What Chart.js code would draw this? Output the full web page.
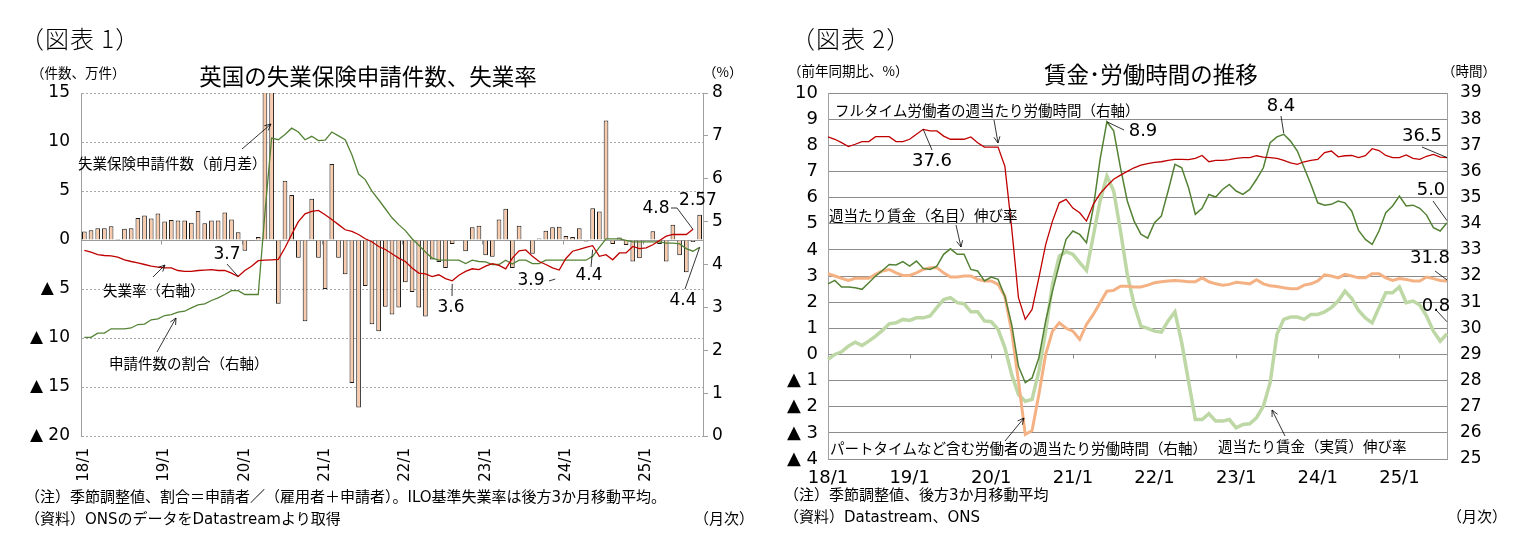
<!DOCTYPE html>
<html>
<head>
<meta charset="utf-8">
<script src="https://cdn.jsdelivr.net/npm/chart.js@4.4.1/dist/chart.umd.min.js"></script>
<style>
body{margin:0;background:#fff;width:1513px;height:557px;overflow:hidden;position:relative;font-family:"Noto Sans CJK JP",sans-serif;color:#000}
canvas{position:absolute;top:0}
#c1{left:0}
#c2{left:760px}
.t{position:absolute;white-space:nowrap;line-height:1;transform:translateY(-50%);z-index:2}
.c{transform:translate(-50%,-50%)}
.fig{font-size:24px;font-weight:300;letter-spacing:1px}
.ttl{font-size:22.5px}
.unit{font-size:13.5px}
.note{font-size:15px;font-family:"DejaVu Sans","Noto Sans CJK JP",sans-serif}
</style>
</head>
<body>
<canvas id="c1" width="760" height="557"></canvas>
<canvas id="c2" width="753" height="557"></canvas>

<div class="t fig" style="left:20px;top:38px">（図表 1）</div>
<div class="t ttl c" style="left:368px;top:75px">英国の失業保険申請件数、失業率</div>
<div class="t unit" style="left:31px;top:73px">（件数、万件）</div>
<div class="t unit" style="left:703px;top:72px">（%）</div>
<div class="t note" style="left:25px;top:497px">（注）季節調整値、割合＝申請者／（雇用者＋申請者）。ILO基準失業率は後方3か月移動平均。</div>
<div class="t note" style="left:25px;top:519px">（資料）ONSのデータをDatastreamより取得</div>
<div class="t note" style="left:694px;top:519px">（月次）</div>

<div class="t fig" style="left:791px;top:38px">（図表 2）</div>
<div class="t ttl c" style="left:1151px;top:73px">賃金･労働時間の推移</div>
<div class="t unit" style="left:788px;top:71px">（前年同期比、%）</div>
<div class="t unit" style="left:1442px;top:71px">（時間）</div>
<div class="t note" style="left:784px;top:495px">（注）季節調整値、後方3か月移動平均</div>
<div class="t note" style="left:784px;top:517px">（資料）Datastream、ONS</div>
<div class="t note" style="left:1447px;top:517px">（月次）</div>

<script>
// year labels shown on the x axis
const yearLabels = ['18/1','19/1','20/1','21/1','22/1','23/1','24/1','25/1'];

// monthly categories 2018/1 - 2025/9
const months = [];
for (let i = 0; i < 93; i++) {
  months.push((18 + Math.floor(i / 12)) + '/' + (i % 12 + 1));
}

// ---- chart 1 : claimant count change (万件), ILO unemployment rate, claimant share (%)
const claims = [
  0.88, 1.0, 1.2, 1.2, 1.4, 0.1, 1.15, 1.2, 2.25, 2.5, 2.2, 2.7,
  1.9, 2.05, 2.0, 2.0, 1.75, 2.95, 1.7, 2.0, 2.0, 2.8, 2.1, 0.8,
  -1.1, -0.1, 0.3, 85.6, 52.8, -6.5, 6.05, 4.6, -1.8, -8.3, 4.2, -1.8,
  -5.0, 7.75, -1.8, -3.5, -14.6, -17.1, -4.7, -8.6, -9.3, -6.8, -7.6, -6.9,
  -4.3, -5.3, -6.9, -7.8, -2.0, -2.25, -2.85, -0.4, 0.05, -1.15, 1.3, 1.45,
  -1.55, -1.7, 2.1, 3.2, -2.85, 1.45, 0.05, -1.4, 0.15, 0.95, 1.3, 1.35,
  0.4, 0.3, 1.2, -0.15, 3.25, 2.9, 12.2, -0.4, 0.25, -0.5, -2.2, -1.85,
  0.05, 0.9, -0.4, -2.2, 1.55, -1.55, -3.3, -0.2, 2.57
];
const unempRate = [
  4.33, 4.29, 4.23, 4.21, 4.2, 4.17, 4.11, 4.07, 4.04, 4.0, 3.96, 3.94,
  3.92, 3.92, 3.86, 3.84, 3.84, 3.86, 3.87, 3.88, 3.86, 3.86, 3.8, 3.72,
  3.86, 3.96, 4.09, 4.1, 4.11, 4.12, 4.39, 4.7, 5.0, 5.18, 5.24, 5.26,
  5.16, 5.05, 4.93, 4.81, 4.77, 4.7, 4.6, 4.53, 4.42, 4.35, 4.25, 4.15,
  4.07, 3.92, 3.8, 3.78, 3.72, 3.76, 3.67, 3.62, 3.75, 3.84, 3.9, 3.88,
  3.96, 4.02, 3.98, 3.9, 4.15, 4.32, 4.34, 4.19, 4.07, 4.0, 3.92, 3.87,
  4.14, 4.31, 4.35, 4.4, 4.44, 4.19, 4.23, 4.11, 4.27, 4.27, 4.42, 4.37,
  4.39, 4.46, 4.56, 4.66, 4.7, 4.7, 4.7, 4.82
];
const claimShare = [
  2.3, 2.3, 2.4, 2.4, 2.5, 2.5, 2.5, 2.52, 2.6, 2.61, 2.71, 2.73,
  2.81, 2.83, 2.89, 2.91, 2.99, 3.06, 3.08, 3.16, 3.22, 3.3, 3.39, 3.39,
  3.3, 3.3, 3.3, 5.2, 6.95, 6.91, 7.03, 7.18, 7.09, 6.91, 6.99, 6.89,
  6.9, 7.09, 7.0, 6.91, 6.56, 6.11, 5.98, 5.71, 5.51, 5.3, 5.09, 4.93,
  4.79, 4.6, 4.45, 4.29, 4.15, 4.1, 4.1, 4.1, 4.1, 4.02, 4.1, 4.07,
  4.06, 4.0, 4.0, 4.1, 4.01, 4.1, 4.1, 4.02, 4.02, 4.1, 4.1, 4.1,
  4.1, 4.1, 4.1, 4.1, 4.19, 4.4, 4.6, 4.6, 4.6, 4.56, 4.53, 4.53,
  4.53, 4.53, 4.53, 4.5, 4.5, 4.48, 4.37, 4.31, 4.4
];

// ---- chart 2 : wages (前年同期比 %) and weekly hours (時間), 2018/1 - 2025/8
const hoursFull = [
  37.32, 37.23, 37.1, 36.95, 37.04, 37.14, 37.14, 37.33, 37.33, 37.33, 37.14, 37.14,
  37.23, 37.42, 37.61, 37.55, 37.55, 37.35, 37.23, 37.23, 37.23, 37.32, 37.1, 36.93,
  36.93, 36.93, 36.2, 33.85, 31.17, 30.34, 30.72, 31.93, 33.2, 34.1, 34.8, 34.93,
  34.6, 34.42, 34.1, 34.74, 35.15, 35.44, 35.7, 35.86, 36.0, 36.14, 36.24, 36.3,
  36.35, 36.37, 36.42, 36.46, 36.46, 36.45, 36.5, 36.61, 36.37, 36.42, 36.42, 36.45,
  36.5, 36.53, 36.53, 36.6, 36.55, 36.53, 36.5, 36.42, 36.33, 36.27, 36.37, 36.42,
  36.46, 36.72, 36.78, 36.56, 36.6, 36.61, 36.53, 36.6, 36.87, 36.8, 36.61, 36.53,
  36.53, 36.63, 36.5, 36.46, 36.58, 36.65, 36.55, 36.53
];
const wageNominal = [
  2.7, 2.83, 2.58, 2.58, 2.55, 2.49, 2.74, 3.0, 3.21, 3.44, 3.42, 3.55,
  3.38, 3.57, 3.29, 3.25, 3.38, 3.83, 4.04, 3.83, 3.83, 3.25, 3.19, 2.81,
  2.96, 2.87, 2.23, 1.15, -0.45, -1.08, -0.9, -0.13, 1.28, 2.42, 3.44, 4.4,
  4.72, 4.59, 4.27, 5.61, 7.46, 8.9, 8.55, 7.14, 5.87, 5.1, 4.6, 4.45,
  5.04, 5.29, 6.25, 7.27, 7.14, 6.38, 5.36, 5.59, 6.12, 6.02, 6.31, 6.5,
  6.25, 6.12, 6.31, 6.7, 7.14, 8.1, 8.32, 8.42, 8.16, 7.78, 7.14, 6.5,
  5.8, 5.71, 5.74, 5.87, 5.8, 5.48, 4.74, 4.4, 4.21, 4.72, 5.42, 5.68,
  6.06, 5.68, 5.71, 5.59, 5.33, 4.85, 4.72, 5.04
];
const hoursAll = [
  32.09, 32.0, 31.91, 31.83, 31.91, 31.91, 31.91, 32.06, 32.19, 32.25, 32.12, 32.02,
  32.02, 32.12, 32.25, 32.32, 32.32, 32.12, 31.96, 31.96, 32.0, 32.0, 31.87, 31.81,
  31.81, 31.68, 31.23, 29.89, 27.98, 25.94, 26.09, 27.47, 29.0, 29.89, 30.21, 30.0,
  29.89, 29.57, 30.15, 30.53, 30.98, 31.42, 31.45, 31.61, 31.61, 31.58, 31.58, 31.65,
  31.74, 31.78, 31.81, 31.83, 31.81, 31.78, 31.78, 31.93, 31.78, 31.7, 31.65, 31.68,
  31.76, 31.73, 31.7, 31.86, 31.7, 31.63, 31.6, 31.55, 31.51, 31.51, 31.65, 31.7,
  31.81, 32.04, 32.0, 31.93, 32.06, 32.0, 31.93, 31.93, 32.09, 32.09, 31.93, 31.83,
  31.9, 31.87, 31.81, 31.81, 31.96, 31.9, 31.83, 31.81
];
const wageReal = [
  -0.19, 0.0, 0.1, 0.32, 0.47, 0.34, 0.51, 0.7, 0.92, 1.17, 1.21, 1.34,
  1.3, 1.4, 1.4, 1.47, 1.79, 2.1, 2.17, 1.98, 1.94, 1.63, 1.63, 1.28,
  1.25, 0.96, 0.26, -0.77, -1.53, -1.79, -1.72, -0.64, 0.89, 2.68, 3.76, 3.93,
  3.83, 3.51, 3.21, 4.53, 5.87, 6.82, 6.25, 4.72, 3.06, 1.91, 1.08, 1.0,
  0.89, 0.85, 1.28, 1.63, 0.45, -1.02, -2.49, -2.49, -2.27, -2.55, -2.55, -2.49,
  -2.81, -2.68, -2.65, -2.42, -1.98, -1.08, 0.77, 1.34, 1.43, 1.43, 1.34, 1.53,
  1.53, 1.63, 1.79, 2.04, 2.42, 2.14, 1.68, 1.4, 1.21, 1.79, 2.36, 2.36,
  2.58, 1.98, 2.04, 1.89, 1.47, 0.89, 0.51, 0.79
];

const NUM = '"DejaVu Sans", sans-serif';
const JP = '"Noto Sans CJK JP", sans-serif';

function tri(v) { return v < 0 ? '▲ ' + (-v) : String(v); }
function yearOnly(v, i) { return yearLabels.includes(months[i]) ? months[i] : ''; }

// zero axis line, year ticks, and the text notes with leader lines
const notesPlugin = {
  id: 'notes',
  beforeDatasetsDraw(chart, args, opts) {
    const ctx = chart.ctx, sx = chart.scales.x, a = chart.chartArea;
    const y0 = Math.round(chart.scales.y.getPixelForValue(0)) + 0.5;
    ctx.save();
    ctx.strokeStyle = opts.axisColor;
    ctx.lineWidth = 1;
    ctx.beginPath();
    ctx.moveTo(a.left, y0);
    ctx.lineTo(a.right, y0);
    for (let i = 12; i < chart.data.labels.length; i += 12) {
      let px = opts.between ? (sx.getPixelForValue(i - 1) + sx.getPixelForValue(i)) / 2 : sx.getPixelForValue(i);
      px = Math.round(px) + 0.5;
      ctx.moveTo(px, y0);
      ctx.lineTo(px, y0 + 4);
    }
    ctx.stroke();
    ctx.restore();
  },
  afterDatasetsDraw(chart, args, opts) {
    const ctx = chart.ctx;
    ctx.save();
    ctx.strokeStyle = '#000';
    ctx.fillStyle = '#000';
    ctx.lineWidth = 0.8;
    ctx.textBaseline = 'middle';
    (opts.items || []).forEach(n => {
      if (n.from) {
        let end = n.to;
        if (!Array.isArray(end)) {
          const ds = chart.data.datasets[end.set];
          const sy = chart.scales[ds.yAxisID];
          end = [chart.scales.x.getPixelForValue(end.i) + (end.dx || 0),
                 sy.getPixelForValue(ds.data[end.i]) + (end.dy || 0)];
        }
        const pts = [n.from].concat(n.via ? [n.via] : [], [end]);
        ctx.beginPath();
        ctx.moveTo(pts[0][0], pts[0][1]);
        for (let k = 1; k < pts.length; k++) ctx.lineTo(pts[k][0], pts[k][1]);
        ctx.stroke();
        if (n.arrow) {
          const p = pts[pts.length - 2];
          const ang = Math.atan2(end[1] - p[1], end[0] - p[0]);
          ctx.beginPath();
          [0.45, -0.45].forEach(d => {
            ctx.moveTo(end[0], end[1]);
            ctx.lineTo(end[0] - 7 * Math.cos(ang + d), end[1] - 7 * Math.sin(ang + d));
          });
          ctx.stroke();
        }
      }
      ctx.font = n.jp ? opts.jpFont : opts.numFont;
      ctx.textAlign = n.jp ? 'left' : 'center';
      ctx.fillText(n.text, n.x, n.y);
    });
    ctx.restore();
  }
};

// ---------------- chart 1
new Chart(document.getElementById('c1'), {
  data: {
    labels: months,
    datasets: [
      {type: 'line', label: '失業率（右軸）', data: unempRate, yAxisID: 'yR', borderColor: '#c00000',
       borderWidth: 1.3, pointRadius: 0, tension: 0, order: 1},
      {type: 'line', label: '申請件数の割合（右軸）', data: claimShare, yAxisID: 'yR', borderColor: '#548235',
       borderWidth: 1.3, pointRadius: 0, tension: 0, order: 2},
      {type: 'bar', label: '失業保険申請件数（前月差）', data: claims, yAxisID: 'y', backgroundColor: '#f8cbad',
       borderColor: '#1a1a1a', borderWidth: 1, barPercentage: 0.7, categoryPercentage: 1, order: 3}
    ]
  },
  options: {
    responsive: false,
    animation: false,
    layout: {padding: {top: 93, left: 0, right: 0, bottom: 0}},
    plugins: {
      legend: {display: false},
      tooltip: {enabled: false},
      notes: {
        axisColor: '#9a9a9a', between: true,
        numFont: '17px ' + NUM, jpFont: '14.5px ' + JP,
        items: [
          {text: '失業保険申請件数（前月差）', jp: true, x: 78, y: 163, from: [242, 149], to: [271, 124], arrow: true},
          {text: '失業率（右軸）', jp: true, x: 103, y: 290, from: [153, 277], to: [165, 265], arrow: true},
          {text: '申請件数の割合（右軸）', jp: true, x: 109, y: 363, from: [157, 352], to: [176, 318], arrow: true},
          {text: '3.7', x: 227, y: 255, from: [227, 264], to: {set: 0, i: 23}},
          {text: '3.6', x: 451, y: 308, from: [452, 296], to: {set: 0, i: 55, dy: 3}},
          {text: '3.9', x: 531, y: 281, from: [549, 281], to: {set: 0, i: 71, dx: -4, dy: 9}},
          {text: '4.4', x: 589, y: 276, from: [591, 267], to: {set: 0, i: 76, dy: 4}},
          {text: '4.8', x: 656, y: 209, from: [671, 208], via: [677, 208], to: {set: 0, i: 91}},
          {text: '2.57', x: 698, y: 201},
          {text: '4.4', x: 683, y: 301, from: [685, 289], to: {set: 1, i: 92}}
        ]
      }
    },
    scales: {
      x: {
        offset: true,
        grid: {display: false},
        border: {display: false},
        ticks: {autoSkip: false, minRotation: 90, maxRotation: 90, padding: 4, color: '#000',
                font: {family: NUM, size: 15}, callback: yearOnly},
        afterFit(s) { s.height = 121; }
      },
      y: {
        position: 'left', min: -20, max: 15,
        ticks: {stepSize: 5, padding: 11, color: '#000', font: {family: NUM, size: 17}, callback: tri},
        grid: {color: '#a8a8a8', lineWidth: 1, drawTicks: false},
        border: {display: true, color: '#a0a0a0', dash: [2, 2]},
        afterFit(s) { s.width = 81; }
      },
      yR: {
        position: 'right', min: 0, max: 8,
        ticks: {stepSize: 1, padding: 4, color: '#000', font: {family: NUM, size: 17}},
        grid: {drawOnChartArea: false, drawTicks: true, tickLength: 5, color: '#a0a0a0'},
        border: {display: true, color: '#a0a0a0'},
        afterFit(s) { s.width = 57; }
      }
    }
  },
  plugins: [notesPlugin]
});

// ---------------- chart 2
new Chart(document.getElementById('c2'), {
  type: 'line',
  data: {
    labels: months.slice(0, 92),
    datasets: [
      {label: 'フルタイム労働者の週当たり労働時間（右軸）', data: hoursFull, yAxisID: 'yR', borderColor: '#c00000',
       borderWidth: 1.3, pointRadius: 0, tension: 0, order: 1},
      {label: '週当たり賃金（名目）伸び率', data: wageNominal, yAxisID: 'y', borderColor: '#548235',
       borderWidth: 1.5, pointRadius: 0, tension: 0, order: 2},
      {label: 'パートタイムなど含む労働者の週当たり労働時間（右軸）', data: hoursAll, yAxisID: 'yR', borderColor: '#f4b183',
       borderWidth: 3, pointRadius: 0, tension: 0, order: 3},
      {label: '週当たり賃金（実質）伸び率', data: wageReal, yAxisID: 'y', borderColor: '#bdd7a5',
       borderWidth: 3.5, pointRadius: 0, tension: 0, order: 4}
    ]
  },
  options: {
    responsive: false,
    animation: false,
    layout: {padding: {top: 93, left: 0, right: 0, bottom: 0}},
    plugins: {
      legend: {display: false},
      tooltip: {enabled: false},
      notes: {
        axisColor: '#8c8c8c', between: false,
        numFont: '18px ' + NUM, jpFont: '14.5px ' + JP,
        items: [
          {text: 'フルタイム労働者の週当たり労働時間（右軸）', jp: true, x: 75, y: 110, from: [234, 120], to: [238, 143], arrow: true},
          {text: '37.6', x: 172, y: 161, from: [172, 150], to: {set: 0, i: 14}},
          {text: '週当たり賃金（名目）伸び率', jp: true, x: 69, y: 215, from: [196, 225], to: [201, 247], arrow: true},
          {text: 'パートタイムなど含む労働者の週当たり労働時間（右軸）', jp: true, x: 70, y: 448, from: [245, 441], to: [264, 418], arrow: true},
          {text: '8.9', x: 383, y: 131, from: [364, 130], to: {set: 1, i: 41}},
          {text: '8.4', x: 521, y: 106, from: [521, 116], to: {set: 1, i: 67, dy: -1}},
          {text: '36.5', x: 662, y: 136, from: [662, 147], to: {set: 0, i: 91}},
          {text: '5.0', x: 671, y: 190, from: [673, 201], to: {set: 1, i: 91, dy: -2}},
          {text: '31.8', x: 670, y: 258, from: [675, 271], to: {set: 2, i: 91, dy: -1}},
          {text: '0.8', x: 676, y: 306, from: [677, 311], to: {set: 3, i: 91, dy: -12}},
          {text: '週当たり賃金（実質）伸び率', jp: true, x: 458, y: 446, from: [525, 436], to: [512, 410], arrow: true}
        ]
      }
    },
    scales: {
      x: {
        offset: false,
        grid: {display: false},
        border: {display: false},
        ticks: {autoSkip: false, maxRotation: 0, minRotation: 0, padding: 1, color: '#000',
                font: {family: NUM, size: 18}, callback: yearOnly},
        afterFit(s) { s.height = 98; }
      },
      y: {
        position: 'left', min: -4, max: 10,
        ticks: {stepSize: 1, padding: 10, color: '#000', font: {family: NUM, size: 18}, callback: tri},
        grid: {color: '#8c8c8c', lineWidth: 1, drawTicks: false},
        border: {display: true, color: '#a0a0a0'},
        afterFit(s) { s.width = 68; }
      },
      yR: {
        position: 'right', min: 25, max: 39,
        ticks: {stepSize: 1, padding: 13, color: '#000', font: {family: NUM, size: 17}},
        grid: {drawOnChartArea: false, drawTicks: false},
        border: {display: true, color: '#a0a0a0'},
        afterFit(s) { s.width = 66; }
      }
    }
  },
  plugins: [notesPlugin]
});
</script>
</body>
</html>
